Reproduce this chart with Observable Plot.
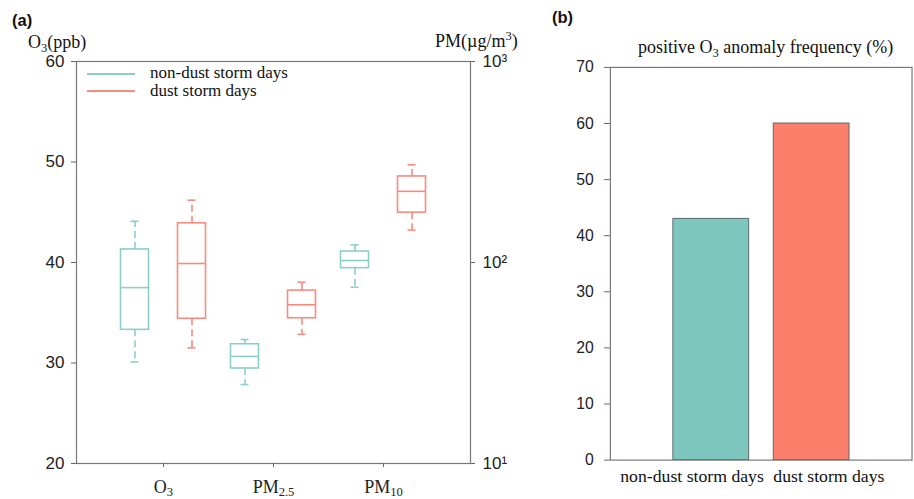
<!DOCTYPE html>
<html>
<head>
<meta charset="utf-8">
<script src="https://cdn.jsdelivr.net/npm/d3@7"></script>
<script src="https://cdn.jsdelivr.net/npm/@observablehq/plot@0.6"></script>
<style>
  body { margin: 0; background: #fff; overflow: hidden; }
  #wrap { position: relative; width: 914px; height: 499px; overflow: hidden; background: #fff; }
  #pa, #pb { position: absolute; top: 0; }
  #pa { left: 0; }
  #pb { left: 540px; }
  .lbl { position: absolute; white-space: nowrap; line-height: 1; color: #111; z-index: 2; }
  .serif { font-family: "Liberation Serif", "Times New Roman", serif; font-size: 18px; }
  .sans { font-family: "Liberation Sans", Arial, sans-serif; }
  .lbl sub { font-size: 0.7em; vertical-align: -0.3em; line-height: 0; }
  .lbl sup { font-size: 0.7em; vertical-align: 0.55em; line-height: 0; }
  .lgline { position: absolute; width: 48px; height: 0; border-top: 2px solid; z-index: 2; }
</style>
</head>
<body>
<div id="wrap">
  <div id="pa"></div>
  <div id="pb"></div>
  <div class="lbl sans" style="left:12px;top:12px;font-size:16.5px;font-weight:bold;">(a)</div>
  <div class="lbl serif" style="left:28px;top:33px;">O<sub>3</sub>(ppb)</div>
  <div class="lbl serif" style="left:435px;top:32px;">PM(µg/m<sup>3</sup>)</div>
  <div class="lgline" style="left:87px;top:73px;border-color:#8ccfca;"></div>
  <div class="lbl serif" style="left:150px;top:64px;font-size:17px;">non-dust storm days</div>
  <div class="lgline" style="left:87px;top:90px;border-color:#f98b7e;"></div>
  <div class="lbl serif" style="left:150px;top:82px;font-size:17px;">dust storm days</div>
  <div class="lbl sans" style="left:552px;top:9px;font-size:16.5px;font-weight:bold;">(b)</div>
  <div class="lbl serif" style="left:638px;top:38px;">positive O<sub>3</sub> anomaly frequency (%)</div>
</div>
<script>
// ---------- data ----------
const categories = ["O3", "PM2.5", "PM10"];
const seriesNames = ["non-dust storm days", "dust storm days"];
// [lower whisker, Q1, median, Q3, upper whisker]
const o3NonDust   = [30.1, 33.3, 37.5, 41.3, 44.1];   // ppb
const o3Dust      = [31.5, 34.4, 39.9, 43.9, 46.2];   // ppb
const pm25NonDust = [24.7, 29.7, 34.1, 39.2, 41.4];   // µg/m3
const pm25Dust    = [43.9, 52.8, 61.6, 72.5, 79.8];   // µg/m3
const pm10NonDust = [75.3, 93.7, 102.3, 113.4, 122.4];// µg/m3
const pm10Dust    = [145, 177, 226, 268, 306];        // µg/m3
const o3Ticks = [20, 30, 40, 50, 60];
const pmTicks = [10, 100, 1000];
const pmTickLabels = ["10¹", "10²", "10³"];

const barCategories = ["non-dust storm days", "dust storm days"];
const anomalyFreq = [43, 60];
const freqTicks = [0, 10, 20, 30, 40, 50, 60, 70];

// ---------- styles ----------
const boxColors = ["#8ccfca", "#f98b7e"];
const barColors = ["#7ec7bf", "#fb7f6b"];
const sansFont = "Liberation Sans, Arial, sans-serif";
const serifFont = "Liberation Serif, Times New Roman, serif";

// secondary (log) axis for PM shares the left O3 axis: 10..1000 <-> 20..60
const pmToY = v => 20 + 20 * Math.log10(v / 10);

function rowsFor(series, stats) {
  return categories.map((cat, i) => {
    const s = stats[i];
    const f = cat === "O3" ? (v => v) : pmToY;
    return {cat, series, lo: f(s[0]), q1: f(s[1]), med: f(s[2]), q3: f(s[3]), hi: f(s[4])};
  });
}
const nonDustRows = rowsFor(seriesNames[0], [o3NonDust, pm25NonDust, pm10NonDust]);
const dustRows = rowsFor(seriesNames[1], [o3Dust, pm25Dust, pm10Dust]);

const boxInset = 41;  // band 110px -> box width 28px
const capInset = 51;  // cap width 8px
function boxMarks(data, offset, color) {
  const c = {x: "cat", dx: offset, stroke: color, strokeWidth: 1.6};
  return [
    Plot.ruleX(data, {...c, y1: "q3", y2: "hi", strokeDasharray: "7,4"}),
    Plot.ruleX(data, {...c, y1: "q1", y2: "lo", strokeDasharray: "7,4"}),
    Plot.tickY(data, {...c, y: "hi", insetLeft: capInset, insetRight: capInset}),
    Plot.tickY(data, {...c, y: "lo", insetLeft: capInset, insetRight: capInset}),
    Plot.barY(data, {...c, y1: "q1", y2: "q3", fill: "none", insetLeft: boxInset, insetRight: boxInset}),
    Plot.tickY(data, {...c, y: "med", insetLeft: boxInset, insetRight: boxInset})
  ];
}

const pmLabel = new Map(pmTicks.map((v, i) => [pmToY(v), pmTickLabels[i]]));

const plotA = Plot.plot({
  width: 540, height: 499,
  marginLeft: 76, marginRight: 70, marginTop: 61, marginBottom: 36,
  style: {color: "#222", background: "transparent"},
  x: {domain: categories, paddingInner: 0, paddingOuter: 0.29},
  y: {domain: [20, 60]},
  marks: [
    Plot.frame({stroke: "#777", strokeWidth: 1.2}),
    ...boxMarks(nonDustRows, -28.5, boxColors[0]),
    ...boxMarks(dustRows, 28.5, boxColors[1]),
    Plot.axisY({ticks: o3Ticks, tickSize: 5, tickPadding: 7, label: null, fontSize: 17, fontFamily: sansFont, stroke: "#666"}),
    Plot.axisY(pmTicks.map(pmToY), {anchor: "right", tickSize: 4, tickPadding: 8, label: null,
      tickFormat: d => pmLabel.get(d), fontSize: 17, fontFamily: sansFont, stroke: "#666"}),
    Plot.axisX({tickSize: 4, tickPadding: 13, label: null, fontSize: 18, fontFamily: serifFont, stroke: "#666"})
  ]
});
document.getElementById("pa").append(plotA);

// subscripts on the category tick labels (O3, PM2.5, PM10)
d3.select(plotA).selectAll("text").each(function () {
  const t = this.textContent;
  if (!categories.includes(t)) return;
  const m = t.match(/^([A-Za-z]+)(.+)$/);
  const el = d3.select(this);
  el.text(m[1]);
  el.append("tspan").attr("font-size", "0.7em").attr("dy", "0.25em").text(m[2]);
});

const bars = barCategories.map((cat, i) => ({cat, value: anomalyFreq[i]}));

const plotB = Plot.plot({
  width: 380, height: 499,
  marginLeft: 71, marginRight: 2.5, marginTop: 68, marginBottom: 32,
  style: {color: "#222", background: "transparent"},
  x: {domain: barCategories, paddingInner: 0.25, paddingOuter: 0.627, axis: null},
  y: {domain: [0, 70]},
  color: {domain: barCategories, range: barColors},
  marks: [
    Plot.barY(bars, {x: "cat", y: "value", fill: "cat", stroke: "#5a6b6a", strokeWidth: 1}),
    Plot.frame({stroke: "#777", strokeWidth: 1.2}),
    Plot.axisY({ticks: freqTicks, tickSize: 6, tickPadding: 11, label: null, fontSize: 16, fontFamily: sansFont, stroke: "#666"}),
    Plot.text([barCategories[0]], {x: d => d, frameAnchor: "bottom", dy: 22, dx: -19.5, fontSize: 18, fontFamily: serifFont, fill: "#111"}),
    Plot.text([barCategories[1]], {x: d => d, frameAnchor: "bottom", dy: 22, dx: 17.5, fontSize: 18, fontFamily: serifFont, fill: "#111"})
  ]
});
document.getElementById("pb").append(plotB);
</script>
</body>
</html>
